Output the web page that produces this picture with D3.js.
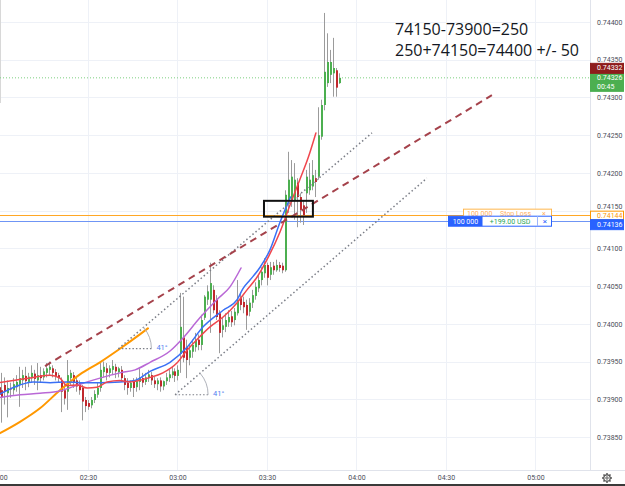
<!DOCTYPE html>
<html><head><meta charset="utf-8">
<script src="https://cdn.jsdelivr.net/npm/d3@7"></script>
<style>body{margin:0;background:#fff;overflow:hidden}svg{display:block}</style>
</head><body>
<svg id="c" width="625" height="486"></svg>
<script>
// ---------- DATA ----------
// 1-minute candles starting 02:00
const candleOpen = [0.73916,0.73912,0.73919,0.73908,0.73915,0.73912,0.73916,0.73919,0.73925,0.73931,
0.73923,0.73928,0.73934,0.73925,0.73932,0.73929,0.73935,0.73939,0.73941,0.73936,
0.73932,0.73925,0.73912,0.73910,0.73928,0.73932,0.73925,0.73922,0.73915,0.73899,
0.73895,0.73892,0.73899,0.73906,0.73915,0.73936,0.73941,0.73935,0.73939,0.73943,
0.73936,0.73939,0.73928,0.73922,0.73915,0.73923,0.73916,0.73923,0.73928,0.73923,
0.73928,0.73932,0.73925,0.73920,0.73925,0.73917,0.73924,0.73928,0.73932,0.73937,
0.73931,0.73960,0.73982,0.73969,0.73955,0.73963,0.73969,0.73979,0.73972,0.74008,
0.74032,0.74032,0.74045,0.74032,0.74014,0.73992,0.73996,0.74002,0.74010,0.74005,
0.74014,0.74034,0.74029,0.74025,0.74016,0.74028,0.74037,0.74047,0.74058,0.74067,
0.74078,0.74065,0.74077,0.74071,0.74078,0.74077,0.74071,0.74164,0.74164,0.74164,
0.74187,0.74168,0.74157,0.74173,0.74177,0.74182,0.74193,0.74195,0.74248,0.74290,
0.74319,0.74330,0.74332,0.74336,0.74319];
const candleHigh = [0.73925,0.73935,0.73929,0.73925,0.73922,0.73928,0.73932,0.73943,0.73939,0.73943,
0.73935,0.73945,0.73939,0.73948,0.73943,0.73941,0.73948,0.73950,0.73945,0.73940,
0.73935,0.73929,0.73922,0.73952,0.73939,0.73936,0.73929,0.73925,0.73919,0.73903,
0.73899,0.73903,0.73912,0.73922,0.73948,0.73950,0.73948,0.73945,0.73952,0.73947,
0.73943,0.73944,0.73932,0.73928,0.73925,0.73928,0.73929,0.73941,0.73935,0.73935,
0.73939,0.73936,0.73930,0.73928,0.73929,0.73925,0.73935,0.73939,0.73943,0.73941,
0.73945,0.74041,0.74036,0.73979,0.73972,0.73979,0.73988,0.73986,0.74012,0.74038,
0.74051,0.74081,0.74051,0.74038,0.74018,0.74009,0.74014,0.74018,0.74017,0.74021,
0.74058,0.74041,0.74036,0.74032,0.74034,0.74045,0.74055,0.74065,0.74075,0.74087,
0.74081,0.74082,0.74082,0.74085,0.74082,0.74081,0.74177,0.74228,0.74217,0.74213,
0.74193,0.74173,0.74164,0.74204,0.74213,0.74217,0.74204,0.74287,0.74297,0.74412,
0.74385,0.74363,0.74379,0.74339,0.74332];
const candleLow = [0.73886,0.73869,0.73893,0.73876,0.73902,0.73906,0.73910,0.73890,0.73915,0.73912,
0.73916,0.73922,0.73919,0.73912,0.73922,0.73925,0.73929,0.73932,0.73929,0.73925,
0.73922,0.73883,0.73893,0.73886,0.73919,0.73915,0.73910,0.73906,0.73872,0.73883,
0.73886,0.73888,0.73895,0.73902,0.73910,0.73929,0.73925,0.73929,0.73932,0.73928,
0.73929,0.73923,0.73912,0.73906,0.73910,0.73903,0.73910,0.73912,0.73916,0.73919,
0.73923,0.73919,0.73915,0.73912,0.73910,0.73912,0.73919,0.73923,0.73928,0.73923,
0.73925,0.73935,0.73949,0.73928,0.73945,0.73955,0.73963,0.73965,0.73965,0.74005,
0.74025,0.73988,0.74014,0.74005,0.73961,0.73982,0.73989,0.73996,0.73996,0.73998,
0.74011,0.74018,0.74014,0.73992,0.74010,0.74021,0.74032,0.74042,0.74051,0.74061,
0.74051,0.74058,0.74065,0.74069,0.74069,0.74067,0.74069,0.74147,0.74155,0.74138,
0.74128,0.74134,0.74131,0.74147,0.74171,0.74177,0.74168,0.74191,0.74244,0.74283,
0.74314,0.74319,0.74301,0.74301,0.74318];
const candleClose = [0.73906,0.73903,0.73910,0.73915,0.73913,0.73920,0.73923,0.73928,0.73932,0.73924,
0.73930,0.73935,0.73927,0.73932,0.73928,0.73937,0.73941,0.73943,0.73935,0.73931,
0.73928,0.73910,0.73901,0.73932,0.73935,0.73923,0.73917,0.73912,0.73897,0.73891,
0.73890,0.73899,0.73907,0.73915,0.73939,0.73943,0.73935,0.73941,0.73944,0.73937,
0.73941,0.73928,0.73919,0.73915,0.73922,0.73915,0.73924,0.73929,0.73922,0.73929,
0.73933,0.73925,0.73920,0.73925,0.73917,0.73924,0.73929,0.73933,0.73937,0.73931,
0.73939,0.73996,0.73955,0.73952,0.73965,0.73972,0.73979,0.73972,0.74005,0.74036,
0.74043,0.74054,0.74018,0.74009,0.73988,0.73998,0.74005,0.74009,0.74002,0.74016,
0.74032,0.74025,0.74022,0.74011,0.74028,0.74038,0.74049,0.74058,0.74069,0.74078,
0.74061,0.74075,0.74071,0.74078,0.74074,0.74071,0.74171,0.74191,0.74195,0.74191,
0.74168,0.74151,0.74144,0.74195,0.74191,0.74197,0.74188,0.74250,0.74290,0.74334,
0.74347,0.74347,0.74339,0.74313,0.74326];

// moving averages: [minute from 02:00, price]
const maOrange = [[0.5,0.73855],[7.2,0.73870],[13.9,0.73888],[20.6,0.73912],[27.3,0.73933],[34,0.73949],[40.7,0.73967],[47.4,0.73986],[50.1,0.73994]];
const maPurple = [[0,0.73902],[7.2,0.73906],[13.9,0.73908],[20.6,0.73911],[27.3,0.73920],[34,0.73928],[40.7,0.73935],[45.8,0.73939],[50.8,0.73949],[57.5,0.73964],[61.8,0.73981],[67.5,0.74008],[73.2,0.74032],[77.6,0.74049],[81.3,0.74074]];
const maBlue = [[0,0.73906],[7.2,0.73919],[11.6,0.73923],[17.3,0.73922],[23,0.73923],[27.3,0.73922],[34,0.73922],[40.7,0.73923],[45.8,0.73925],[50.8,0.73937],[57.5,0.73949],[63.2,0.73969],[68.6,0.73996],[75.3,0.74018],[80,0.74032],[82,0.74047],[84.3,0.74058],[87.7,0.74075],[91,0.74098],[94.4,0.74135],[97.9,0.74168]];
const maRed = [[0,0.73922],[4.9,0.73925],[11.6,0.73929],[17.3,0.73932],[20.6,0.73928],[23,0.73918],[26.3,0.73919],[29.7,0.73915],[33,0.73916],[36.4,0.73923],[40.7,0.73925],[44.1,0.73923],[50.8,0.73929],[55.1,0.73935],[59.8,0.73948],[63.2,0.73965],[66.5,0.73979],[70.9,0.73996],[75.3,0.74009],[80,0.74028],[83.3,0.74045],[86.7,0.74062],[90,0.74085],[94.4,0.74122],[97.7,0.74157],[101,0.74191],[103.8,0.74220],[106.4,0.74253]];

// drawings: [minute, price]
const upperChannel = [[40.2,0.73967],[125.2,0.74253]];
const lowerChannel = [[59.2,0.73906],[143.6,0.74193]];
const dashedTrend = [[15.6,0.73944],[165.4,0.74303]];
const zoneBox = [[89.0,0.74163],[105.4,0.74142]];
const angleLabels = ["41°","41°"];

const yTicks = [0.73850,0.73900,0.73950,0.74000,0.74050,0.74100,0.74150,0.74200,0.74250,0.74300,0.74350,0.74400];
const xTickMinutes = [0,30,60,90,120,150,180];

const lastPrice = 0.74326, countdown = "00:45", refPrice = 0.74332;
const stopLossPrice = 0.74144, entryPrice = 0.74136;
const qtyText = "100 000", pnlText = "+199.00 USD", slText = "Stop Loss";
const noteLines = ["74150-73900=250", "250+74150=74400 +/- 50"];

// ---------- CHART ----------
const W = 625, H = 486, PR = 590, PB = 470;
const T0 = new Date(2021, 2, 10, 2, 0);
const tm = m => new Date(T0.getTime() + m * 60000);
const x = d3.scaleTime().domain([T0, tm(200)]).range([-1.5, -1.5 + 200 * 2.983]);
const y = d3.scaleLinear().domain([0.73850, 0.74400]).range([437, 22]);
const px = m => x(tm(m));

const svg = d3.select("#c");
svg.append("rect").attr("width", W).attr("height", H).attr("fill", "#fff");
svg.append("defs").append("clipPath").attr("id", "plot")
  .append("rect").attr("width", PR).attr("height", PB);
const g = svg.append("g").attr("clip-path", "url(#plot)");

// grid
g.selectAll(".hg").data(yTicks).join("line")
  .attr("x1", 0).attr("x2", PR)
  .attr("y1", d => Math.round(y(d)) + 0.5).attr("y2", d => Math.round(y(d)) + 0.5)
  .attr("stroke", "#eef1f7").attr("stroke-width", 1);
g.selectAll(".vg").data(xTickMinutes).join("line")
  .attr("x1", d => Math.round(px(d)) + 0.5).attr("x2", d => Math.round(px(d)) + 0.5)
  .attr("y1", 0).attr("y2", PB)
  .attr("stroke", "#eef1f7").attr("stroke-width", 1);
g.append("line").attr("x1", 0.5).attr("x2", 0.5).attr("y1", 0).attr("y2", 103)
  .attr("stroke", "#d8d8d8");

// price lines
g.append("line").attr("x1", 0).attr("x2", PR)
  .attr("y1", y(lastPrice)).attr("y2", y(lastPrice))
  .attr("stroke", "#7ccf7f").attr("stroke-width", 1).attr("stroke-dasharray", "1,2");
g.append("line").attr("x1", 0).attr("x2", PR)
  .attr("y1", Math.round(y(stopLossPrice)) + 0.5).attr("y2", Math.round(y(stopLossPrice)) + 0.5)
  .attr("stroke", "#ffa726").attr("stroke-width", 1);
g.append("line").attr("x1", 0).attr("x2", PR)
  .attr("y1", Math.round(y(entryPrice)) + 0.5).attr("y2", Math.round(y(entryPrice)) + 0.5)
  .attr("stroke", "#6f95f5").attr("stroke-width", 1);

// candles
const candles = candleOpen.map((o, i) => ({ t: tm(i), o, h: candleHigh[i], l: candleLow[i], c: candleClose[i] }));
g.selectAll(".wick").data(candles).join("line")
  .attr("x1", d => Math.round(x(d.t)) + 0.5).attr("x2", d => Math.round(x(d.t)) + 0.5)
  .attr("y1", d => y(d.h)).attr("y2", d => y(d.l))
  .attr("stroke", "#9b9b9b").attr("stroke-width", 1);
g.selectAll(".body").data(candles).join("rect")
  .attr("x", d => Math.round(x(d.t)))
  .attr("width", 2)
  .attr("y", d => y(Math.max(d.o, d.c)))
  .attr("height", d => Math.max(1, Math.abs(y(d.o) - y(d.c))))
  .attr("fill", d => d.c >= d.o ? "#4caf50" : "#c0282d");

// moving averages
const line = d3.line().x(d => px(d[0])).y(d => y(d[1])).curve(d3.curveMonotoneX);
[[maOrange, "#ff9800", 2], [maPurple, "#b968d6", 1.5], [maBlue, "#3a70f5", 1.5], [maRed, "#f0464d", 1.5]]
  .forEach(([data, col, w]) => {
    g.append("path").attr("d", line(data)).attr("fill", "none")
      .attr("stroke", col).attr("stroke-width", w).attr("stroke-linecap", "round");
  });

// drawings
const seg = (pts, col, w, dash) => g.append("line")
  .attr("x1", px(pts[0][0])).attr("y1", y(pts[0][1]))
  .attr("x2", px(pts[1][0])).attr("y2", y(pts[1][1]))
  .attr("stroke", col).attr("stroke-width", w).attr("stroke-dasharray", dash)
  .attr("stroke-linecap", "butt");
seg(upperChannel, "#7b7e87", 1.5, "1.5,2.5");
seg(lowerChannel, "#7b7e87", 1.5, "1.5,2.5");
seg(dashedTrend, "#a5424b", 2, "7,5");

// angle markers
[upperChannel, lowerChannel].forEach((ch, i) => {
  const cx = px(ch[0][0]), cy = y(ch[0][1]);
  const r = 33;
  const ang = Math.atan2(cy - y(ch[1][1]), px(ch[1][0]) - cx);
  g.append("line").attr("x1", cx).attr("y1", cy).attr("x2", cx + r).attr("y2", cy)
    .attr("stroke", "#7b7e87").attr("stroke-width", 1.2).attr("stroke-dasharray", "1.5,2");
  g.append("path")
    .attr("d", `M${cx + r},${cy} A${r},${r} 0 0 0 ${cx + r * Math.cos(ang)},${cy - r * Math.sin(ang)}`)
    .attr("fill", "none").attr("stroke", "#b0b3bb").attr("stroke-width", 1);
  g.append("text").attr("x", cx + r + 5).attr("y", cy + 1)
    .attr("font-family", "Roboto, sans-serif").attr("font-size", 7.5).attr("fill", "#4f7cf0")
    .text(angleLabels[i]);
});

// zone rectangle
g.append("rect")
  .attr("x", px(zoneBox[0][0])).attr("y", y(zoneBox[0][1]))
  .attr("width", px(zoneBox[1][0]) - px(zoneBox[0][0]))
  .attr("height", y(zoneBox[1][1]) - y(zoneBox[0][1]))
  .attr("fill", "none").attr("stroke", "#111").attr("stroke-width", 2);

// note text
svg.append("g").selectAll("text").data(noteLines).join("text")
  .attr("x", 395).attr("y", (d, i) => 35 + i * 20.5)
  .attr("font-family", "'Open Sans', 'Noto Sans', sans-serif").attr("font-size", 16)
  .attr("fill", "#131722").text(d => d);

// order tags in plot
const ft = "Roboto, sans-serif";
{
  const cy = y(stopLossPrice) - 1.5;
  const og = svg.append("g");
  og.append("rect").attr("x", 463.5).attr("y", cy - 4.5).attr("width", 88).attr("height", 9)
    .attr("fill", "#fff").attr("stroke", "#ffb74d").attr("stroke-width", 1);
  og.append("text").attr("x", 467).attr("y", cy + 2.5).attr("font-family", ft).attr("font-size", 7)
    .attr("fill", "#ffb060").text(qtyText);
  og.append("text").attr("x", 500).attr("y", cy + 2.5).attr("font-family", ft).attr("font-size", 7)
    .attr("fill", "#ffb060").text(slText);
  og.append("text").attr("x", 542).attr("y", cy + 2.5).attr("font-family", ft).attr("font-size", 7)
    .attr("fill", "#ffb060").text("×");
}
{
  const cy = y(entryPrice);
  const bg = svg.append("g");
  bg.append("rect").attr("x", 448.5).attr("y", cy - 5).attr("width", 103).attr("height", 10)
    .attr("fill", "#fff").attr("stroke", "#2962ff").attr("stroke-width", 1);
  bg.append("rect").attr("x", 448.5).attr("y", cy - 5).attr("width", 34).attr("height", 10)
    .attr("fill", "#2962ff");
  bg.append("line").attr("x1", 537.5).attr("x2", 537.5).attr("y1", cy - 5).attr("y2", cy + 5)
    .attr("stroke", "#9db5fb");
  bg.append("text").attr("x", 465.5).attr("y", cy + 2.5).attr("text-anchor", "middle")
    .attr("font-family", ft).attr("font-size", 7).attr("fill", "#fff").text(qtyText);
  bg.append("text").attr("x", 510).attr("y", cy + 2.5).attr("text-anchor", "middle")
    .attr("font-family", ft).attr("font-size", 7).attr("fill", "#26a65b").text(pnlText);
  bg.append("text").attr("x", 545).attr("y", cy + 2.5).attr("text-anchor", "middle")
    .attr("font-family", ft).attr("font-size", 8).attr("fill", "#2962ff").text("×");
}

// right axis
svg.append("line").attr("x1", PR + 0.5).attr("x2", PR + 0.5).attr("y1", 0).attr("y2", PB)
  .attr("stroke", "#e0e3eb");
const ay = svg.append("g").attr("transform", `translate(${PR},0)`)
  .call(d3.axisRight(y).tickValues(yTicks).tickFormat(d3.format(".5f")).tickSize(0).tickPadding(7));
ay.select(".domain").remove();
ay.selectAll("text").attr("font-family", ft).attr("font-size", 7).attr("fill", "#4a4d57");
// tick label that sits just above the stop-loss tag: nudge so it is not covered
ay.selectAll(".tick").filter(d => Math.abs(d - 0.7415) < 1e-7).select("text").attr("dy", "-0.3em");

// bottom axis
svg.append("line").attr("x1", 0).attr("x2", W).attr("y1", PB + 0.5).attr("y2", PB + 0.5)
  .attr("stroke", "#e0e3eb");
const ax = svg.append("g").attr("transform", `translate(0,${PB})`)
  .call(d3.axisBottom(x).tickValues(xTickMinutes.map(tm)).tickFormat(d3.timeFormat("%H:%M")).tickSize(0).tickPadding(5));
ax.select(".domain").remove();
ax.selectAll("text").attr("font-family", ft).attr("font-size", 7).attr("fill", "#4a4d57");
svg.append("line").attr("x1", 0).attr("x2", W).attr("y1", 485).attr("y2", 485)
  .attr("stroke", "#3a3a3a").attr("stroke-width", 2);

// price tags on axis
const tag = (top, h, fill, stroke, color, lines) => {
  const tg = svg.append("g");
  tg.append("rect").attr("x", PR + 0.5).attr("y", top).attr("width", 33).attr("height", h)
    .attr("fill", fill).attr("stroke", stroke);
  lines.forEach((t, i) => tg.append("text").attr("x", PR + 7).attr("y", top + 7 + i * 8.5)
    .attr("font-family", ft).attr("font-size", 7).attr("fill", color).text(t));
};
const gTop = y(lastPrice) - 4.5;
tag(gTop, 18, "#4caf50", "#4caf50", "#ffffff", [d3.format(".5f")(lastPrice), countdown]);
tag(gTop - 10, 10, "#8e1c1c", "#8e1c1c", "#ffffff", [d3.format(".5f")(refPrice)]);
const oTop = y(stopLossPrice) - 4;
tag(oTop, 8.5, "#ffffff", "#ff9800", "#ff9800", [d3.format(".5f")(stopLossPrice)]);
tag(oTop + 8.5, 10, "#2962ff", "#2962ff", "#ffffff", [d3.format(".5f")(entryPrice)]);

// gear icon
{
  const gx = 607, gy = 478;
  const gear = svg.append("g").attr("stroke", "#555").attr("fill", "none");
  for (let k = 0; k < 8; k++) {
    const a = k * Math.PI / 4;
    gear.append("line").attr("x1", gx + 3 * Math.cos(a)).attr("y1", gy + 3 * Math.sin(a))
      .attr("x2", gx + 5 * Math.cos(a)).attr("y2", gy + 5 * Math.sin(a)).attr("stroke-width", 1.5);
  }
  gear.append("circle").attr("cx", gx).attr("cy", gy).attr("r", 3.2).attr("stroke-width", 1.2).attr("fill", "#fff");
  gear.append("circle").attr("cx", gx).attr("cy", gy).attr("r", 1.2).attr("stroke-width", 1);
}
</script>
</body></html>
